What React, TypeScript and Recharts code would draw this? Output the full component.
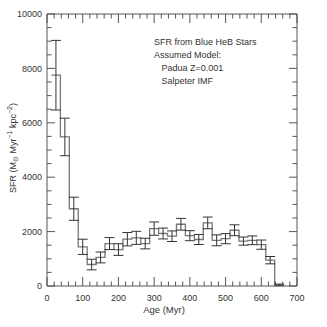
import React from 'react';
import { ComposedChart, Line, Scatter, ErrorBar, XAxis, YAxis, Customized } from 'recharts';

// ─── Data ──────────────────────────────────────────────────────────────────────
const binCenters = [25, 50, 75, 100, 125, 150, 175, 200, 225, 250, 275, 300, 325,
  350, 375, 400, 425, 450, 475, 500, 525, 550, 575, 600, 625, 650];
const sfrValues = [7750, 5480, 2840, 1440, 790, 1050, 1560, 1340, 1720, 1770, 1560, 2110, 1930,
  1830, 2270, 1850, 1710, 2320, 1680, 1740, 2050, 1650, 1680, 1520, 950, 40];
const sfrErrors = [1280, 690, 425, 280, 195, 200, 220, 215, 245, 240, 195, 245, 200,
  195, 215, 185, 185, 215, 200, 185, 200, 150, 160, 170, 135, 30];
const binWidth = 25;

const xTicks = Array.from({ length: 36 }, (_, i) => i * 20);
const yTicks = Array.from({ length: 21 }, (_, i) => i * 500);
const annotation = ['SFR from Blue HeB Stars', 'Assumed Model:', '   Padua Z=0.001', '   Salpeter IMF'];

// step outline: one point per bin left edge, plus the closing right edge
const stepData = binCenters.map((c, i) => ({ x: c - binWidth / 2, v: sfrValues[i] }));
stepData.push({ x: binCenters[binCenters.length - 1] + binWidth / 2, v: sfrValues[sfrValues.length - 1] });
const barData = binCenters.map((c, i) => ({ x: c, v: sfrValues[i], e: sfrErrors[i] }));

const FONT = '"Liberation Sans", Arial, sans-serif';
const AXIS = '#555';
const TXT = '#333';

// ─── Inward tick renderers ────────────────────────────────────────────────────
const xTick = (side: 'bottom' | 'top') => (props: any) => {
  const { x, y, payload } = props;
  const major = payload.value % 100 === 0;
  const len = major ? 9 : 4.5;
  const dir = side === 'bottom' ? -1 : 1;
  return (
    <g>
      <line x1={x} x2={x} y1={y} y2={y + dir * len} stroke={AXIS} strokeWidth={1} />
      {side === 'bottom' && major && (
        <text x={x} y={y + 15} textAnchor="middle" fontSize={9} fontFamily={FONT} fill={TXT}>
          {payload.value}
        </text>
      )}
    </g>
  );
};

const yTick = (side: 'left' | 'right') => (props: any) => {
  const { x, y, payload } = props;
  const major = payload.value % 2000 === 0;
  const len = major ? 8 : 4.5;
  const dir = side === 'left' ? 1 : -1;
  return (
    <g>
      <line x1={x} x2={x + dir * len} y1={y} y2={y} stroke={AXIS} strokeWidth={1} />
      {side === 'left' && major && (
        <text x={x - 5} y={y + 3.2} textAnchor="end" fontSize={9} fontFamily={FONT} fill={TXT}>
          {payload.value}
        </text>
      )}
    </g>
  );
};

const Labels = () => (
  <g fontFamily={FONT} fill={TXT}>
    {annotation.map((t, i) => (
      <text key={i} x={154} y={45 + i * 13} fontSize={9} style={{ whiteSpace: 'pre' }}>
        {t}
      </text>
    ))}
    <text x={164} y={313} textAnchor="middle" fontSize={9.5}>Age (Myr)</text>
    <text x={15.5} y={148} textAnchor="middle" fontSize={9} transform="rotate(-90 15.5 148)">
      <tspan>SFR  (M</tspan>
      <tspan dy={2} fontSize={7}>⊙</tspan>
      <tspan dy={-2}> Myr</tspan>
      <tspan dy={-3.5} fontSize={7}>−1</tspan>
      <tspan dy={3.5}> kpc</tspan>
      <tspan dy={-3.5} fontSize={7}>−2</tspan>
      <tspan dy={3.5}>)</tspan>
    </text>
  </g>
);

export default function App() {
  return (
    <div style={{ position: 'absolute', left: 0, top: 0, background: '#fff' }}>
      <ComposedChart width={327} height={327} margin={{ top: 13, right: 29, bottom: 40, left: 46 }}>
        <XAxis xAxisId="b" type="number" dataKey="x" domain={[0, 700]} ticks={xTicks} interval={0}
          height={1} tickSize={0} tickMargin={0} axisLine={{ stroke: AXIS }} tickLine={false}
          tick={xTick('bottom')} allowDataOverflow />
        <XAxis xAxisId="t" orientation="top" type="number" dataKey="x" domain={[0, 700]} ticks={xTicks}
          interval={0} height={1} tickSize={0} tickMargin={0} axisLine={{ stroke: AXIS }} tickLine={false}
          tick={xTick('top')} allowDataOverflow />
        <YAxis yAxisId="l" type="number" domain={[0, 10000]} ticks={yTicks} interval={0} width={1}
          tickSize={0} tickMargin={0} axisLine={{ stroke: AXIS }} tickLine={false} tick={yTick('left')}
          allowDataOverflow />
        <YAxis yAxisId="r" orientation="right" type="number" domain={[0, 10000]} ticks={yTicks} interval={0}
          width={1} tickSize={0} tickMargin={0} axisLine={{ stroke: AXIS }} tickLine={false}
          tick={yTick('right')} allowDataOverflow />
        <Line xAxisId="b" yAxisId="l" data={stepData} dataKey="v" type="stepAfter" stroke="#777"
          strokeWidth={1.3} dot={false} activeDot={false} isAnimationActive={false} />
        <Scatter xAxisId="b" yAxisId="l" data={barData} dataKey="v" shape={() => <g />}
          isAnimationActive={false}>
          <ErrorBar dataKey="e" direction="y" width={5} stroke="#333" strokeWidth={1}
            isAnimationActive={false} />
        </Scatter>
        <Customized component={Labels} />
      </ComposedChart>
    </div>
  );
}
